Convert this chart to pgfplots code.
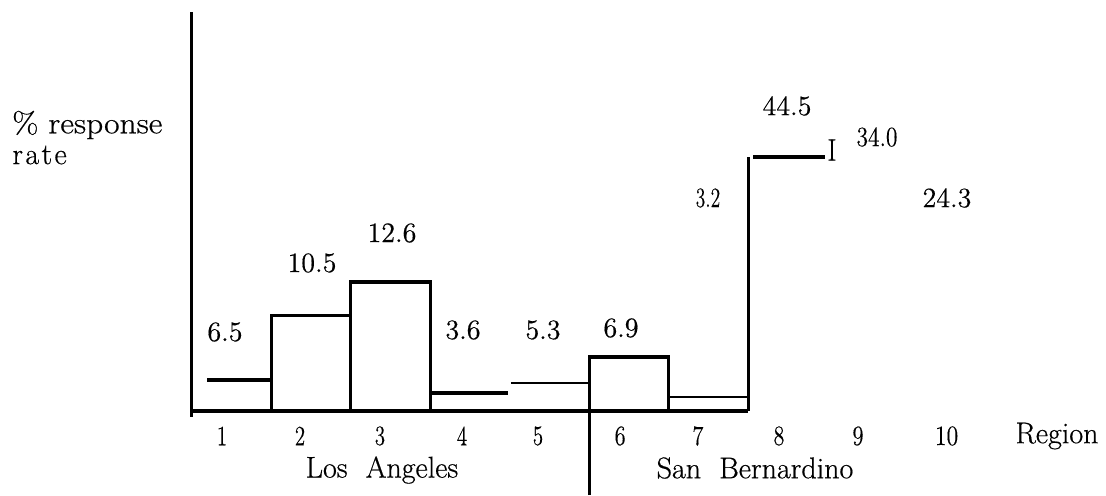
\documentclass[border=0pt]{standalone}
\usepackage{fontspec}
\usepackage{pgfplots}
\pgfplotsset{compat=1.18}
\usepackage{graphicx}
\newfontfamily\heavy{Latin Modern Roman}[FakeBold=0.5]
\newfontfamily\light{Latin Modern Roman}[FakeBold=0.3]
\newcommand\fz{\heavy\fontsize{14bp}{16bp}\selectfont}
\newcommand\fzb{\heavy\fontsize{15bp}{17bp}\selectfont}
\newcommand\fzt{\light\fontsize{14bp}{16bp}\selectfont}
\begin{document}
\begin{tikzpicture}
\useasboundingbox (0,0) rectangle (553bp,248bp);
\begin{axis}[
  at={(0,0)}, anchor=south west, scale only axis,
  width=553bp, height=248bp,
  xmin=-1.917, xmax=12.007, ymin=-85, ymax=411,
  clip=false,
  axis line style={draw=none},
  tick style={draw=none},
  ytick=\empty,
  xtick={0.878,1.86,2.867,3.90,4.856,5.89,6.87,7.89,8.885,10.0},
  xticklabels={\scalebox{0.75}[1]{1},\scalebox{0.75}[1]{2},\scalebox{0.75}[1]{3},\scalebox{0.75}[1]{4},\scalebox{0.75}[1]{5},\scalebox{0.8}[1]{6},\scalebox{0.8}[1]{7},\scalebox{0.8}[1]{8},\scalebox{0.8}[1]{9},\scalebox{0.85}[1]{10}},
  xticklabel style={anchor=center, yshift=30bp, font=\light\fontsize{14bp}{16bp}\selectfont},
  every axis plot/.append style={black, line join=miter},
]
% axes
\addplot[line width=1.5bp] coordinates {(0.5,-6) (0.5,399)};
\addplot[line width=1.6bp] coordinates {(0.5,0) (7.5,0)};
% regions (drawn heights)
\addplot[line width=1.7bp] coordinates {(0.689,31) (1.5,31)};
\addplot[line width=1.5bp] coordinates {(1.5,0) (1.5,95) (2.5,95)};
\addplot[line width=1.6bp] coordinates {(2.5,0) (2.5,129) (3.5,129) (3.5,0)};
\addplot[line width=1.6bp] coordinates {(3.5,18) (4.478,18)};
\addplot[line width=1.1bp] coordinates {(4.516,28) (5.5,28)};
\addplot[line width=1.6bp] coordinates {(5.5,-84) (5.5,54) (6.5,54) (6.5,0)};
\addplot[line width=1.4bp] coordinates {(6.5,14) (7.5,14)};
\addplot[line width=1.5bp] coordinates {(7.5,0) (7.5,254)};
\addplot[line width=1.8bp] coordinates {(7.563,254) (8.469,254)};
% value labels
\node[font=\fz] at (axis cs:0.915,79) {6.5};
\node[font=\fz] at (axis cs:2.011,148) {10.5};
\node[font=\fz] at (axis cs:3.018,178) {12.6};
\node[font=\fz] at (axis cs:3.912,81) {3.6};
\node[font=\fz] at (axis cs:4.919,81) {5.3};
\node[font=\fz] at (axis cs:5.901,83) {6.9};
\node[font=\fzt] at (axis cs:6.996,213) {\scalebox{0.7}[1]{3.2}};
\node[font=\fz] at (axis cs:7.991,305) {44.5};
\node[font=\fzt] at (axis cs:8.557,261) {\fontsize{15.5bp}{17bp}\selectfont\scalebox{0.9}[1]{I}};
\node[font=\fzt] at (axis cs:9.124,274) {\scalebox{0.84}[1]{34.0}};
\node[font=\fz] at (axis cs:10.005,213) {24.3};
% axis texts
\node[font=\fzb, anchor=west, inner sep=0pt] at (axis cs:-1.766,286) {\scalebox{1.12}[1]{\% response}};
\node[font=\fzb, anchor=west, inner sep=0pt] at (axis cs:-1.766,256) {r\kern1.2pt a\kern1.2pt t\kern1.2pt e};
\node[font=\fzb] at (axis cs:11.39,-25) {Region};
\node[font=\fzb] at (axis cs:2.892,-59) {Los\ \ Angeles};
\node[font=\fzb] at (axis cs:7.588,-57) {San\ \ Bernardino};
\end{axis}
\end{tikzpicture}
\end{document}
